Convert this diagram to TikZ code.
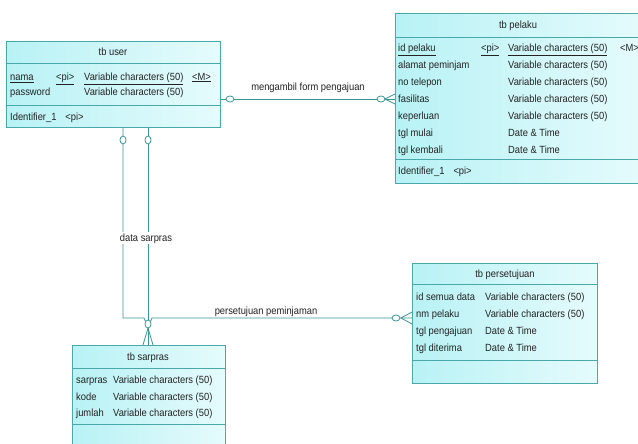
\documentclass[tikz,border=0pt]{standalone}
\usepackage{fontspec}
\setmainfont{Liberation Sans}[FakeStretch=0.9]
\usetikzlibrary{calc,shapes.geometric}
\definecolor{edge}{RGB}{72,168,170}
\definecolor{reledge}{RGB}{60,150,152}
\definecolor{fillA}{RGB}{184,242,245}
\definecolor{fillB}{RGB}{230,251,252}
\definecolor{txt}{RGB}{35,35,35}
\newcommand{\tf}{\fontsize{10.4}{12}\selectfont}
\tikzset{
  tbl/.style={draw=edge, line width=0.8pt, left color=fillA, right color=fillB, rectangle, inner sep=0pt, anchor=north west},
  sepline/.style={draw=edge, line width=0.8pt},
  rel/.style={draw=reledge, line width=0.8pt},
  cell/.style={anchor=west, inner sep=0pt, text=txt, font=\tf, text height=8pt, text depth=1.5pt},
  ttl/.style={anchor=center, inner sep=0pt, text=txt, font=\tf, text height=8pt, text depth=1.5pt},
  lbl/.style={fill=white, inner sep=1pt, text=txt, font=\tf, text height=8pt, text depth=2pt},
  opth/.style={draw=reledge, fill=white, line width=0.8pt, ellipse, inner sep=0pt, minimum width=8pt, minimum height=6pt},
  optv/.style={draw=reledge, fill=white, line width=0.8pt, ellipse, inner sep=0pt, minimum width=6pt, minimum height=8pt},
}
\begin{document}
\begin{tikzpicture}[x=1pt,y=-1pt]
\useasboundingbox (0,0) rectangle (638,444);
\clip (0,0) rectangle (638,444);
\fill[white] (0,0) rectangle (638,444);

% ---------- tb user ----------
\node[tbl, minimum width=214pt, minimum height=86pt] (user) at (6,41) {};
\draw[sepline] (6,63) -- (220,63);
\draw[sepline] (6,105) -- (220,105);
\node[ttl] (ut) at (113,52) {tb user};
\node[cell] (u1a) at (10,77) {\underline{nama}};
\node[cell] (u1b) at (56,77) {\underline{<pi>}};
\node[cell] (u1c) at (84,77) {\underline{Variable characters (50)}};
\node[cell] (u1d) at (192,77) {\underline{<M>}};
\node[cell] (u2a) at (10,92) {password};
\node[cell] (u2c) at (84,92) {Variable characters (50)};
\node[cell] (uid) at (10,117) {Identifier\_1\hspace{9pt}<pi>};

% ---------- tb pelaku ----------
\node[tbl, minimum width=250pt, minimum height=170pt] (pelaku) at (395,13) {};
\draw[sepline] (395,37) -- (645,37);
\draw[sepline] (395,159) -- (645,159);
\node[ttl] (pt) at (518,25) {tb pelaku};
\node[cell] (p1a) at (398,48) {\underline{id pelaku}};
\node[cell] (p1b) at (481,48) {\underline{<pi>}};
\node[cell] (p1c) at (508,48) {\underline{Variable characters (50)}};
\node[cell] (p1d) at (620,48) {<M>};
\node[cell] (p2a) at (398,65) {alamat peminjam};
\node[cell] (p2c) at (508,65) {Variable characters (50)};
\node[cell] (p3a) at (398,82) {no telepon};
\node[cell] (p3c) at (508,82) {Variable characters (50)};
\node[cell] (p4a) at (398,99) {fasilitas};
\node[cell] (p4c) at (508,99) {Variable characters (50)};
\node[cell] (p5a) at (398,116) {keperluan};
\node[cell] (p5c) at (508,116) {Variable characters (50)};
\node[cell] (p6a) at (398,133) {tgl mulai};
\node[cell] (p6c) at (508,133) {Date \& Time};
\node[cell] (p7a) at (398,150) {tgl kembali};
\node[cell] (p7c) at (508,150) {Date \& Time};
\node[cell] (pid) at (398,171) {Identifier\_1\hspace{9pt}<pi>};

% ---------- tb persetujuan ----------
\node[tbl, minimum width=185pt, minimum height=120pt] (setuju) at (412,263) {};
\draw[sepline] (412,284) -- (597,284);
\draw[sepline] (412,360) -- (597,360);
\node[ttl] (st) at (505,274) {tb persetujuan};
\node[cell] (s1a) at (416,297) {id semua data};
\node[cell] (s1c) at (485,297) {Variable characters (50)};
\node[cell] (s2a) at (416,314) {nm pelaku};
\node[cell] (s2c) at (485,314) {Variable characters (50)};
\node[cell] (s3a) at (416,331) {tgl pengajuan};
\node[cell] (s3c) at (485,331) {Date \& Time};
\node[cell] (s4a) at (416,348) {tgl diterima};
\node[cell] (s4c) at (485,348) {Date \& Time};

% ---------- tb sarpras ----------
\node[tbl, minimum width=153pt, minimum height=110pt] (sarpras) at (72,345) {};
\draw[sepline] (72,368) -- (225,368);
\draw[sepline] (72,424) -- (225,424);
\node[ttl] (sat) at (148,357) {tb sarpras};
\node[cell] (a1a) at (76,380) {sarpras};
\node[cell] (a1c) at (113,380) {Variable characters (50)};
\node[cell] (a2a) at (76,397) {kode};
\node[cell] (a2c) at (113,397) {Variable characters (50)};
\node[cell] (a3a) at (76,413) {jumlah};
\node[cell] (a3c) at (113,413) {Variable characters (50)};

% ---------- relationship: mengambil form pengajuan ----------
\coordinate (m0) at (user.east |- 0,99);
\coordinate (m1) at (pelaku.west |- 0,99);
\coordinate (mc) at (385,99);
\draw[rel] (m0) -- (m1);
\draw[rel] (mc) -- ($(m1)+(0,-5)$);
\draw[rel] (mc) -- ($(m1)+(0,5)$);
\node[opth] (mo1) at (230,99) {};
\node[opth] (mo2) at (381,99) {};
\node[lbl] (ml) at (308,88) {mengambil form pengajuan};

% ---------- relationship: persetujuan peminjaman ----------
\coordinate (q0) at (user.south -| 123,0);
\coordinate (q1) at (123,318);
\coordinate (q2) at (setuju.west |- 0,318);
\coordinate (qc) at (401,318);
\draw[rel] (q0) -- (q1) -- (144,318) arc[start angle=180, end angle=0, radius=4] -- (q2);
\draw[rel] (qc) -- ($(q2)+(0,-6)$);
\draw[rel] (qc) -- ($(q2)+(0,6)$);
\node[optv] (qo1) at (123,140) {};
\node[opth] (qo2) at (396,318) {};
\node[lbl] (ql) at (266,311) {persetujuan peminjaman};

% ---------- relationship: data sarpras ----------
\coordinate (d0) at (user.south -| 148,0);
\coordinate (d1) at (sarpras.north -| 148,0);
\coordinate (dc) at (148,328);
\draw[rel] (d0) -- (d1);
\draw[rel] (dc) -- ($(d1)+(-5,0)$);
\draw[rel] (dc) -- ($(d1)+(5,0)$);
\node[optv] (do1) at (148,140) {};
\node[optv] (do2) at (148,324) {};
\node[lbl] (dl) at (146,238) {data sarpras};
\end{tikzpicture}
\end{document}
